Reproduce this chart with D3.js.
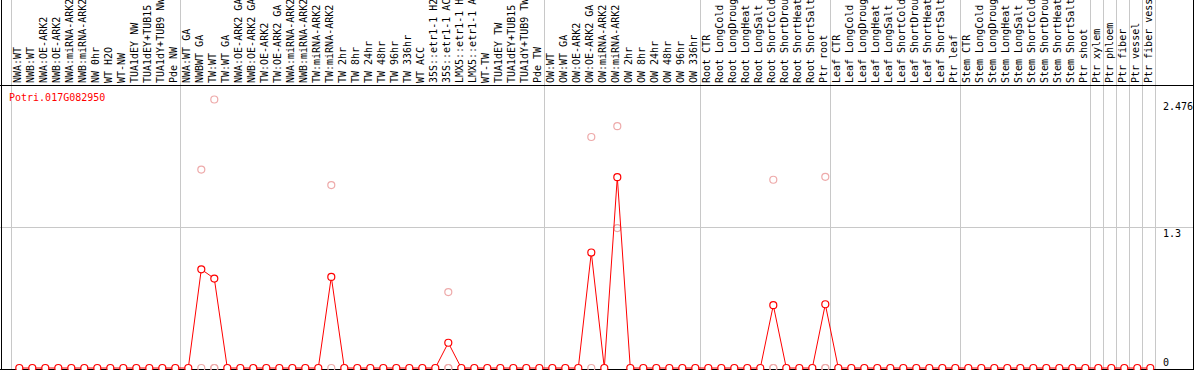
<!DOCTYPE html>
<html>
<head>
<meta charset="utf-8">
<script src="https://cdnjs.cloudflare.com/ajax/libs/d3/7.8.2/d3.min.js"></script>
<style>
  body { margin: 0; background: #fff; }
  svg { display: block; font-family: "DejaVu Sans Mono", "Liberation Mono", monospace; font-size: 10px; }
</style>
</head>
<body>
<svg id="chart" width="1194" height="370"></svg>
<script>
// sample names (columns), left to right
const labels = [
  "NWA:WT", "NWB:WT", "NWA:OE-ARK2", "NWB:OE-ARK2", "NWA:miRNA-ARK2", "NWB:miRNA-ARK2",
  "NW 0hr", "WT H2O", "WT-NW", "TUA1dEY NW", "TUA1dEY+TUB15 NW", "TUA1dY+TUB9 NW", "Pde NW",
  "NWA:WT GA", "NWBWT GA", "TW:WT", "TW:WT GA", "NWA:OE-ARK2 GA", "NWB:OE-ARK2 GA",
  "TW:OE-ARK2", "TW:OE-ARK2 GA", "NWA:miRNA-ARK2 GA", "NWB:miRNA-ARK2 GA", "TW:miRNA-ARK2",
  "TW:miRNA-ARK2", "TW 2hr", "TW 8hr", "TW 24hr", "TW 48hr", "TW 96hr", "TW 336hr", "WT ACC",
  "35S::etr1-1 H2O", "35S::etr1-1 ACC", "LMX5::etr1-1 H2O", "LMX5::etr1-1 ACC", "WT-TW",
  "TUA1dEY TW", "TUA1dEY+TUB15 TW", "TUA1dY+TUB9 TW", "Pde TW",
  "OW:WT", "OW:WT GA", "OW:OE-ARK2", "OW:OE-ARK2 GA", "OW:miRNA-ARK2", "OW:miRNA-ARK2",
  "OW 2hr", "OW 8hr", "OW 24hr", "OW 48hr", "OW 96hr", "OW 336hr",
  "Root CTR", "Root LongCold", "Root LongDrought", "Root LongHeat", "Root LongSalt",
  "Root ShortCold", "Root ShortDrought", "Root ShortHeat", "Root ShortSalt", "Ptr root",
  "Leaf CTR", "Leaf LongCold", "Leaf LongDrought", "Leaf LongHeat", "Leaf LongSalt",
  "Leaf ShortCold", "Leaf ShortDrought", "Leaf ShortHeat", "Leaf ShortSalt", "Ptr leaf",
  "Stem CTR", "Stem LongCold", "Stem LongDrought", "Stem LongHeat", "Stem LongSalt",
  "Stem ShortCold", "Stem ShortDrought", "Stem ShortHeat", "Stem ShortSalt", "Ptr shoot",
  "Ptr xylem", "Ptr phloem", "Ptr fiber", "Ptr vessel", "Ptr fiber vessel"
];

// mean expression per column (1-based column -> value), zero elsewhere
const peakCols  = [15, 16, 25, 34, 45, 47, 59, 63];
const peakMeans = [0.91, 0.825, 0.84, 0.233, 1.065, 1.76, 0.579, 0.588];

// replicate values for the same columns (pink dots)
const repVals = [
  [1.83, 0], [2.476, 0, 0], [1.687, 0], [0.70, 0, 0],
  [2.13, 0], [2.23, 1.29], [1.736, 0, 0], [1.763, 0, 0]
];

// first column of each block (0-based), separator drawn before it
const groupStarts = [0, 13, 41, 53, 63, 73, 83, 84, 85, 86, 87, 88];

const yTicks = [0, 1.3, 2.476];
const geneId = "Potri.017G082950";

const means = labels.map((d, i) => {
  const k = peakCols.indexOf(i + 1);
  return k < 0 ? 0 : peakMeans[k];
});
const reps = [];
peakCols.forEach((c, k) => repVals[k].forEach(v => reps.push({ i: c - 1, v })));

const W = 1194, H = 370;
const svg = d3.select("#chart");

const x = d3.scaleLinear().domain([0, labels.length - 1]).range([19.3, 19.3 + 13 * (labels.length - 1)]);
const y = d3.scaleLinear().domain([0, 2.476]).range([368, 99.5]);

// vertical separators
svg.selectAll("line.sep").data(groupStarts).join("line")
  .attr("class", "sep")
  .attr("x1", d => Math.round(x(d) - 8) + 0.5).attr("x2", d => Math.round(x(d) - 8) + 0.5)
  .attr("y1", 0).attr("y2", H)
  .attr("stroke", "#c8c8c8");

// horizontal grid at the middle tick
svg.append("line")
  .attr("x1", 0).attr("x2", W)
  .attr("y1", Math.round(y(1.3)) + 0.5).attr("y2", Math.round(y(1.3)) + 0.5)
  .attr("stroke", "#c8c8c8");

// frame
svg.append("line").attr("x1", 0).attr("x2", W).attr("y1", 85.5).attr("y2", 85.5).attr("stroke", "#000");
svg.append("line").attr("x1", 0).attr("x2", W).attr("y1", 369.5).attr("y2", 369.5).attr("stroke", "#000");
svg.append("line").attr("x1", 1.5).attr("x2", 1.5).attr("y1", 0).attr("y2", H).attr("stroke", "#000");
svg.append("line").attr("x1", 1193.5).attr("x2", 1193.5).attr("y1", 0).attr("y2", H).attr("stroke", "#000");

// column labels
svg.selectAll("text.lab").data(labels).join("text")
  .attr("class", "lab")
  .attr("transform", (d, i) => `translate(${x(i) + 1.5},83) rotate(-90)`)
  .attr("fill", "#000")
  .text(d => d);

// title
svg.append("text").attr("x", 9).attr("y", 101).attr("fill", "#f00").text(geneId);

// y tick labels
svg.selectAll("text.yt").data(yTicks).join("text")
  .attr("class", "yt")
  .attr("x", 1163)
  .attr("y", d => Math.min(y(d) + 10, 366))
  .attr("fill", "#000")
  .text(d => d);

// replicate dots
svg.selectAll("circle.rep").data(reps).join("circle")
  .attr("class", "rep")
  .attr("cx", d => x(d.i)).attr("cy", d => y(d.v)).attr("r", 3.5)
  .attr("fill", "none").attr("stroke", "#eaa").attr("stroke-width", 1.2);

// mean line
svg.append("path")
  .datum(means)
  .attr("fill", "none").attr("stroke", "#f00").attr("stroke-width", 1)
  .attr("d", d3.line().x((d, i) => x(i)).y(d => y(d)));

svg.selectAll("circle.mean").data(means).join("circle")
  .attr("class", "mean")
  .attr("cx", (d, i) => x(i)).attr("cy", d => y(d)).attr("r", 3.5)
  .attr("fill", "#fff").attr("stroke", "#f00").attr("stroke-width", 1.2);
</script>
</body>
</html>
